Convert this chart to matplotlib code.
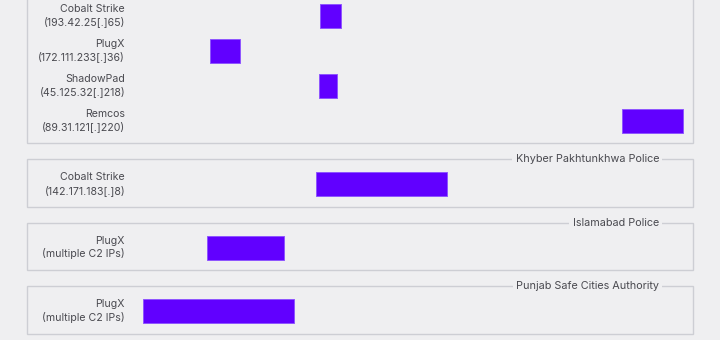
import matplotlib
matplotlib.use("Agg")
import matplotlib.pyplot as plt
from matplotlib.patches import Rectangle

plt.rcParams['font.family'] = ['Inter', 'DejaVu Sans']

# groups (victim) -> rows (malware + C2)
groups = ["", "Khyber Pakhtunkhwa Police", "Islamabad Police", "Punjab Safe Cities Authority"]
malware = [
    ["Cobalt Strike", "PlugX", "ShadowPad", "Remcos"],
    ["Cobalt Strike"],
    ["PlugX"],
    ["PlugX"],
]
c2 = [
    ["(193.42.25[.]65)", "(172.111.233[.]36)", "(45.125.32[.]218)", "(89.31.121[.]220)"],
    ["(142.171.183[.]8)"],
    ["(multiple C2 IPs)"],
    ["(multiple C2 IPs)"],
]
# activity windows on a relative time scale (0-100)
starts = [
    [32.8, 12.4, 32.6, 88.7],
    [32.0],
    [11.9],
    [0.0],
]
durations = [
    [3.9, 5.6, 3.3, 11.3],
    [24.3],
    [14.3],
    [28.0],
]

bg = "#efeff1"
bar_color = "#6100ff"
box_color = "#cdced4"
text_color = "#4a4a50"

fig = plt.figure(figsize=(7.2, 3.4), dpi=100, facecolor=bg)
ax = fig.add_axes([0, 0, 1, 1], facecolor=bg)
# x: pixel 143 -> 0, pixel 683 -> 100
px_per_unit = 5.4
ax.set_xlim(-143 / px_per_unit, (720 - 143) / px_per_unit)
ax.set_ylim(340, 0)
ax.axis('off')

box_left = -116 / px_per_unit    # pixel 27
box_right = 550 / px_per_unit    # pixel 693
label_x = -18 / px_per_unit      # pixel 125
title_x = 516 / px_per_unit      # pixel 659

pitch = 35
bar_h = 24
y = 15.5
for gi, name in enumerate(groups):
    top = y - 25
    for ri in range(len(malware[gi])):
        ax.barh(y, durations[gi][ri], left=starts[gi][ri], height=bar_h,
                color=bar_color, edgecolor="#8f55ff", linewidth=0.7, zorder=3)
        ax.text(label_x, y, malware[gi][ri] + "\n" + c2[gi][ri], ha='right', va='center',
                fontsize=7.6, color=text_color, linespacing=1.3)
        last = y
        y += pitch
    bottom = last + 22.5
    ax.add_patch(Rectangle((box_left, top), box_right - box_left, bottom - top,
                           fill=False, edgecolor=box_color, linewidth=1.0, zorder=1))
    if name:
        ax.text(title_x, top, name, ha='right', va='center', fontsize=7.8, color=text_color,
                zorder=4, bbox=dict(facecolor=bg, edgecolor='none', pad=2.5))
    y = bottom + 16 + 25

fig.savefig("out.png", dpi=100, facecolor=bg)
